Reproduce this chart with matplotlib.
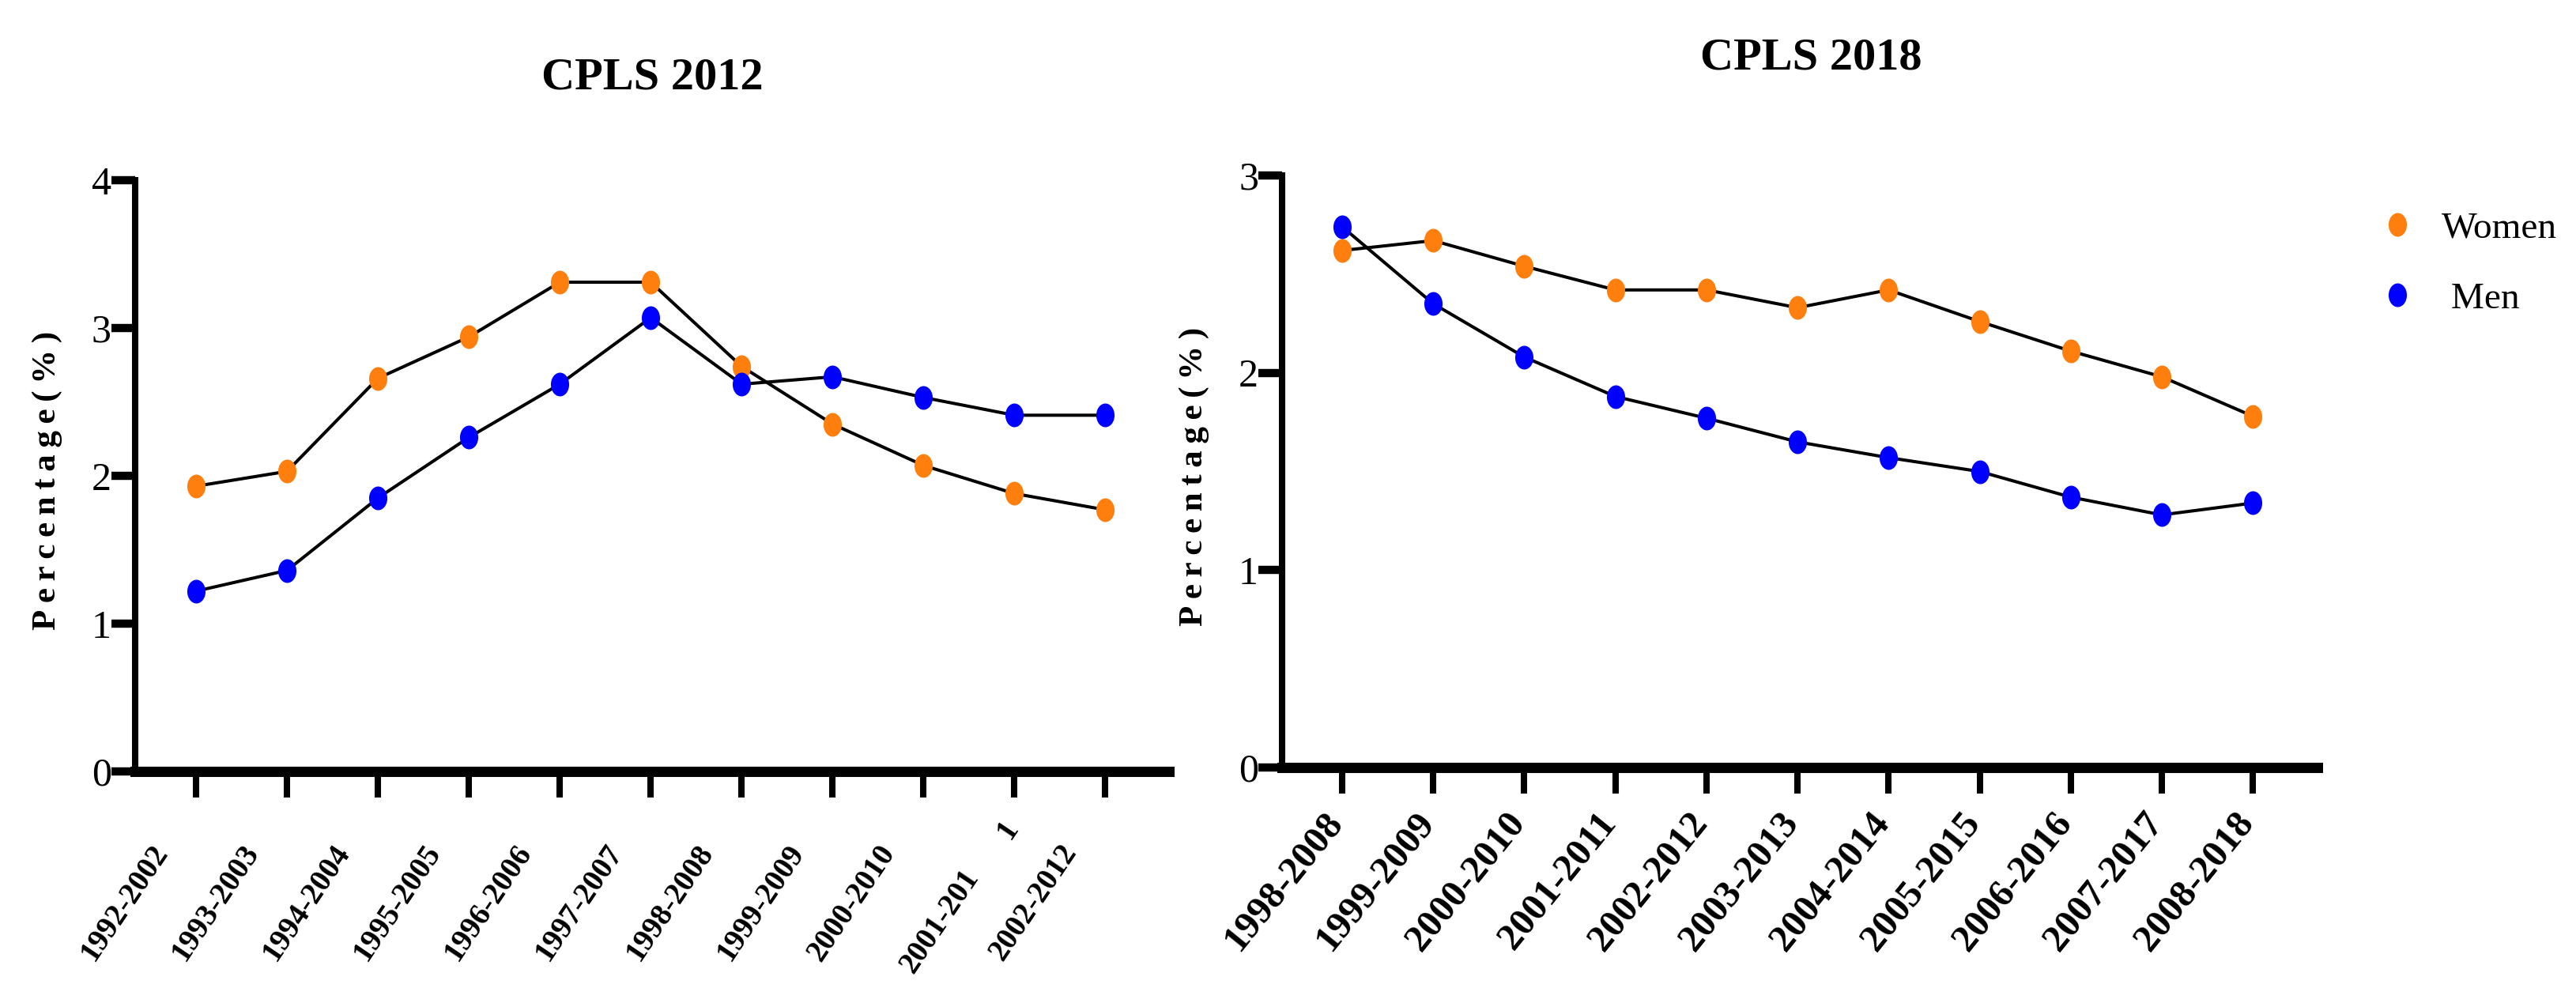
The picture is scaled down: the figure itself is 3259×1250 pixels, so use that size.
import matplotlib
matplotlib.use('Agg')
import matplotlib.pyplot as plt
from matplotlib.path import Path
from matplotlib.transforms import Affine2D, ScaledTranslation

plt.rcParams['font.family'] = ['Liberation Serif', 'DejaVu Serif']

# CPLS 2012 panel
periods_2012 = ['1992-2002', '1993-2003', '1994-2004', '1995-2005', '1996-2006',
                '1997-2007', '1998-2008', '1999-2009', '2000-2010', '2001-201',
                '2002-2012']
women_2012 = [1.93, 2.03, 2.66, 2.94, 3.31, 3.31, 2.74, 2.35, 2.07, 1.88, 1.77]
men_2012 = [1.22, 1.36, 1.85, 2.26, 2.62, 3.07, 2.62, 2.67, 2.53, 2.41, 2.41]

# CPLS 2018 panel
periods_2018 = ['1998-2008', '1999-2009', '2000-2010', '2001-2011', '2002-2012',
                '2003-2013', '2004-2014', '2005-2015', '2006-2016', '2007-2017',
                '2008-2018']
women_2018 = [2.62, 2.67, 2.54, 2.42, 2.42, 2.33, 2.42, 2.26, 2.11, 1.98, 1.78]
men_2018 = [2.74, 2.35, 2.08, 1.88, 1.77, 1.65, 1.57, 1.50, 1.37, 1.28, 1.34]

orange = '#ff7f0e'
blue = '#0000ff'

# the original figure is squeezed sideways, so the dots are tall ellipses
ell = Path.unit_circle().transformed(Affine2D().scale(0.77, 1.0))

ylab = '\u2009'.join('Percentage') + '\u2009(\u2009%\u2009)'

fig = plt.figure(figsize=(32.59, 12.5), dpi=100)
ax1 = fig.add_axes([0.05247, 0.2192, 0.40135, 0.5984])
ax2 = fig.add_axes([0.4977, 0.2232, 0.40196, 0.5992])


def draw(ax, labels, women, men, ymax, xlim, rot, lsize, pad, xshift):
    x = list(range(len(labels)))
    ax.plot(x, women, color='black', lw=2.9, zorder=2)
    ax.plot(x, men, color='black', lw=2.9, zorder=2)
    ax.plot(x, women, ls='none', marker=ell, ms=21.6, mew=0, color=orange,
            label='Women', zorder=3)
    ax.plot(x, men, ls='none', marker=ell, ms=21.6, mew=0, color=blue,
            label=' Men', zorder=4)
    ax.set_xlim(*xlim)
    ax.set_ylim(0, ymax)
    ax.set_yticks(range(ymax + 1))
    for s in ['top', 'right']:
        ax.spines[s].set_visible(False)
    ax.spines['left'].set_linewidth(5.8)
    ax.spines['bottom'].set_linewidth(9.4)
    ax.tick_params(axis='y', length=21.6, width=7.5, pad=0, labelsize=36)
    ax.tick_params(axis='x', length=24, width=5.8, pad=pad)
    ax.set_xticks(x)
    ax.set_xticklabels(labels, rotation=rot, ha='right', va='top',
                       fontsize=lsize, fontweight='bold')
    for lab in ax.get_xticklabels():
        lab.set_transform(lab.get_transform() +
                          ScaledTranslation(xshift, 0, fig.dpi_scale_trans))
    ax.text(-0.085, 0.492, ylab, rotation=90,
            ha='center', va='center', transform=ax.transAxes,
            fontsize=31, fontweight='bold')


draw(ax1, periods_2012, women_2012, men_2012, 4, (-0.67, 10.70), 56, 28, 38, -0.28)
draw(ax2, periods_2018, women_2018, men_2018, 3, (-0.66, 10.71), 51, 35, 11, 0.10)

# the 2001-2011 label lost its last "1", which sits on its own nearer the tick
i = periods_2012.index('2001-201')
lab = ax1.get_xticklabels()[i]
lab.set_transform(lab.get_transform() +
                  ScaledTranslation(-0.09, -0.32, fig.dpi_scale_trans))
ax1.annotate('1', xy=(i, 0), xycoords='data', xytext=(-6, -53),
             textcoords='offset points', rotation=56, ha='center', va='center',
             fontsize=28, fontweight='bold')

ax1.text(0.5, 1.155, 'CPLS 2012', transform=ax1.transAxes, ha='center',
         va='baseline', fontsize=42, fontweight='bold')
ax2.text(0.511, 1.179, 'CPLS 2018', transform=ax2.transAxes, ha='center',
         va='baseline', fontsize=42, fontweight='bold')

ax2.legend(loc='upper left', bbox_to_anchor=(0.9233, 0.786),
           bbox_transform=fig.transFigure, frameon=False, fontsize=34,
           numpoints=1, handlelength=1.0, handletextpad=0.7,
           labelspacing=0.98, borderpad=0, borderaxespad=0)

fig.savefig('out.png', dpi=100)
